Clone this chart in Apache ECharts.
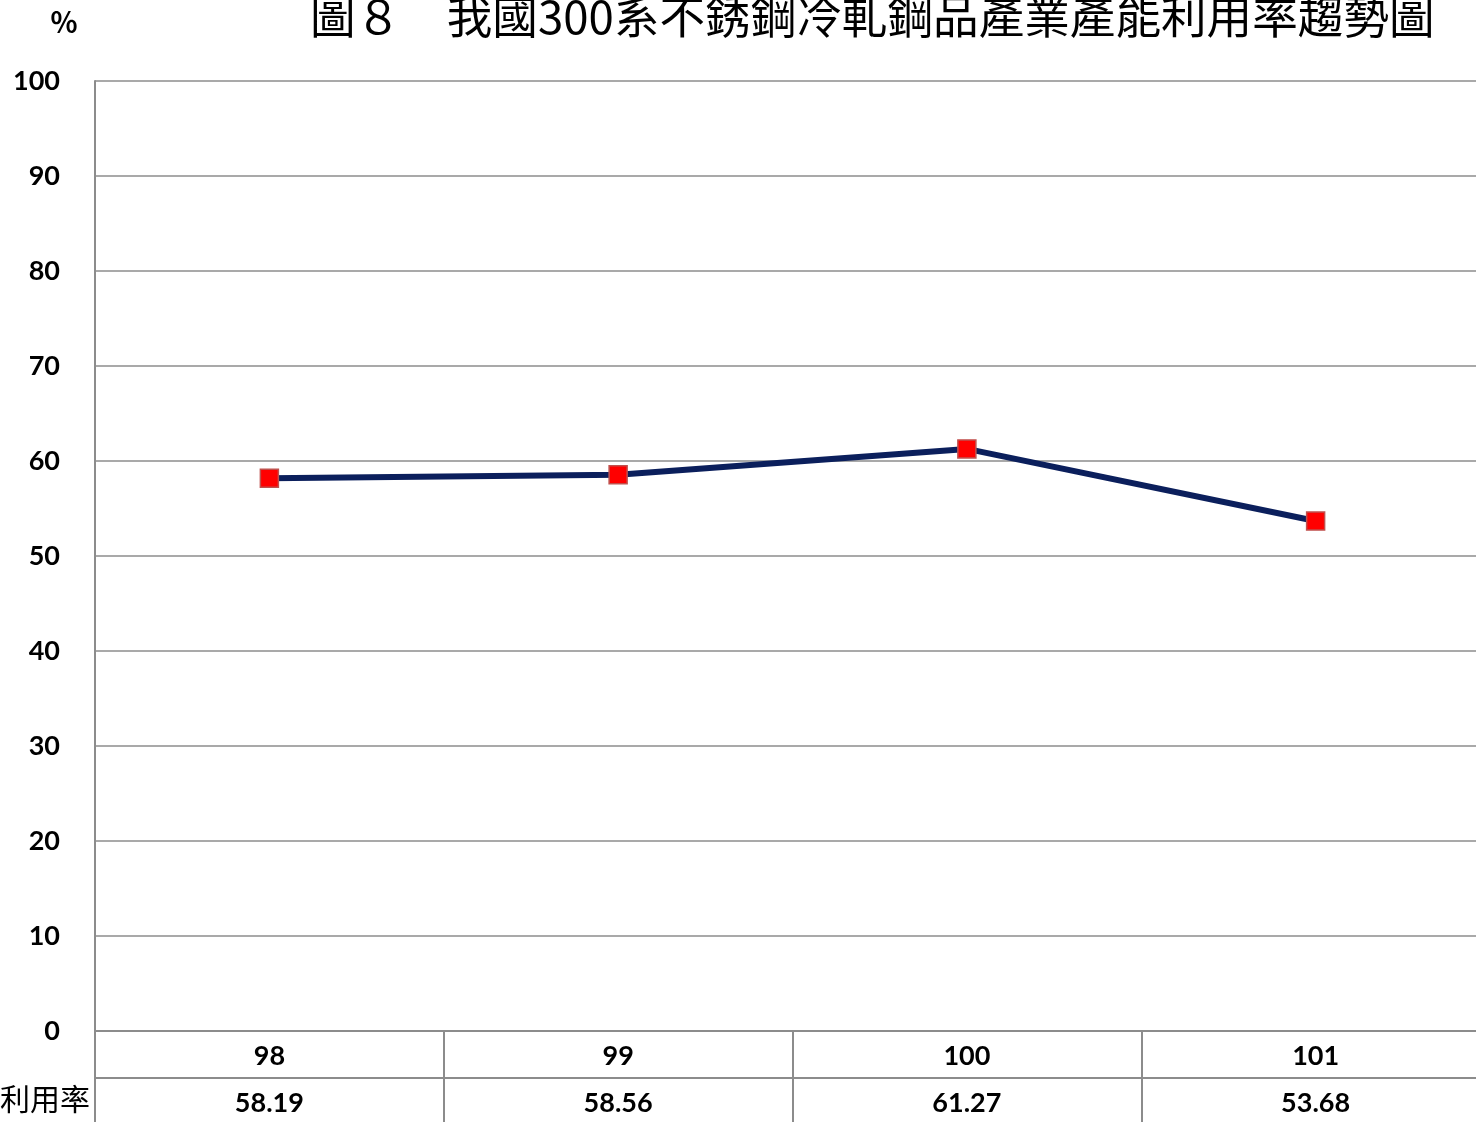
<!DOCTYPE html>
<html>
<head>
<meta charset="utf-8">
<script src="https://cdn.jsdelivr.net/npm/echarts@6/dist/echarts.min.js"></script>
<style>
  html, body { margin: 0; padding: 0; background: #fff; overflow: hidden; }
  #chart { width: 1490px; height: 1122px; }
</style>
</head>
<body>
<div id="chart"></div>
<script>
var years = ['98', '99', '100', '101'];
var rates = [58.19, 58.56, 61.27, 53.68];
var yTicks = [0, 10, 20, 30, 40, 50, 60, 70, 80, 90, 100];

// chart is a bit wider than the window: the right edge of the plot is cut off like in the source
var chart = echarts.init(document.getElementById('chart'));
var gridColor = '#8c8c8c';
var numFont = 'Lato, "Open Sans", sans-serif';

var option = {
  animation: false,
  backgroundColor: '#fff',
  grid: {
    left: 95,
    right: 0,
    top: 81,
    bottom: 91
  },
  graphic: [
    {
      type: 'text',
      left: 310,
      top: -6,
      style: {
        text: '圖８　我國300系不銹鋼冷軋鋼品產業產能利用率趨勢圖',
        font: '45.6px "Noto Sans CJK TC"',
        fill: '#000'
      }
    },
    {
      type: 'text',
      left: 50,
      top: 8,
      style: {
        text: '％',
        font: 'bold 28px "Noto Sans CJK TC"',
        fill: '#000'
      }
    },
    {
      type: 'text',
      left: 0,
      top: 1084,
      style: {
        text: '利用率',
        font: '30px "Noto Sans CJK TC"',
        fill: '#000'
      }
    }
  ],
  xAxis: [
    {
      type: 'category',
      data: years,
      boundaryGap: true,
      axisLine: { show: true, lineStyle: { color: gridColor, width: 2 } },
      axisTick: { show: true, length: 91, lineStyle: { color: gridColor, width: 2 } },
      axisLabel: {
        margin: 12,
        color: '#000',
        fontWeight: 'bold',
        fontSize: 27,
        fontFamily: numFont
      }
    },
    {
      type: 'category',
      data: years,
      position: 'bottom',
      offset: 47,
      boundaryGap: true,
      axisLine: { show: true, lineStyle: { color: gridColor, width: 2 } },
      axisTick: { show: false },
      axisLabel: {
        margin: 12,
        color: '#000',
        fontWeight: 'bold',
        fontSize: 27,
        fontFamily: numFont,
        formatter: function (v, i) {
          return rates[i].toFixed(2);
        }
      }
    }
  ],
  yAxis: {
    type: 'value',
    min: yTicks[0],
    max: yTicks[yTicks.length - 1],
    interval: 10,
    axisLine: { show: true, lineStyle: { color: gridColor, width: 2 } },
    axisTick: { show: false },
    splitLine: { show: true, lineStyle: { color: gridColor, width: 1.5 } },
    axisLabel: {
      margin: 35,
      color: '#000',
      fontWeight: 'bold',
      fontSize: 27,
      fontFamily: numFont
    }
  },
  series: [
    {
      type: 'line',
      data: rates,
      xAxisIndex: 0,
      symbol: 'rect',
      symbolSize: 18,
      lineStyle: { color: '#0b1f5c', width: 6 },
      itemStyle: { color: '#ff0000', borderColor: '#c0504d', borderWidth: 1.5 },
      z: 5
    }
  ]
};

chart.setOption(option);
</script>
</body>
</html>
